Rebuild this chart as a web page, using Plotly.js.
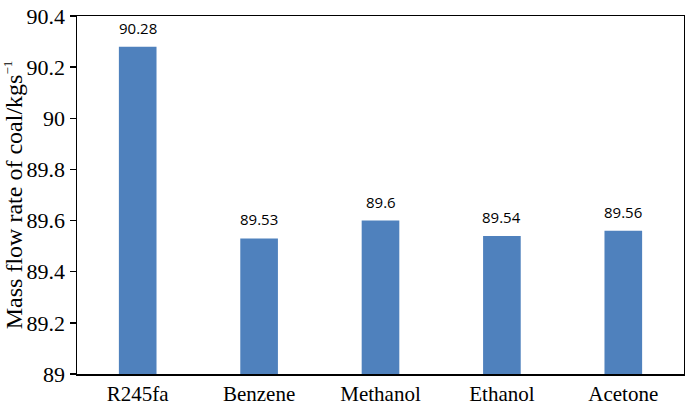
<!DOCTYPE html>
<html>
<head>
<meta charset="utf-8">
<script src="https://cdn.plot.ly/plotly-3.0.1.min.js"></script>
<style>
  html, body { margin: 0; padding: 0; background: #fff; }
  #chart { width: 685px; height: 405px; }
</style>
</head>
<body>
<div id="chart"></div>
<script>
// fluids on the x axis
var fluids = ["R245fa", "Benzene", "Methanol", "Ethanol", "Acetone"];
// mass flow rate of coal, kg/s
var coalFlow = [90.28, 89.53, 89.6, 89.54, 89.56];
var barLabels = ["90.28", "89.53", "89.6", "89.54", "89.56"];
var yTicks = [89, 89.2, 89.4, 89.6, 89.8, 90, 90.2, 90.4];
var yTickText = ["89", "89.2", "89.4", "89.6", "89.8", "90", "90.2", "90.4"];
var yBase = 89;

var trace = {
  x: fluids,
  y: coalFlow.map(v => v - yBase),
  base: yBase,
  type: "bar",
  width: 0.31,
  marker: {color: "#4f81bd"},
  hoverinfo: "none"
};

// value labels above each bar
var labels = fluids.map((f, i) => ({
  x: f,
  y: coalFlow[i],
  text: barLabels[i],
  showarrow: false,
  yanchor: "bottom",
  yshift: 7,
  font: {family: "Open Sans, Liberation Sans, sans-serif", size: 15, color: "#000"}
}));

var layout = {
  width: 685,
  height: 405,
  margin: {l: 77, r: 1, t: 16, b: 31},
  paper_bgcolor: "#fff",
  plot_bgcolor: "#fff",
  showlegend: false,
  font: {family: "Liberation Serif, Times New Roman, serif", color: "#000"},
  annotations: labels,
  xaxis: {
    showline: true, mirror: true, linecolor: "#000", linewidth: 1.5,
    ticks: "", showgrid: false,
    tickfont: {size: 21, family: "Liberation Serif, serif"}
  },
  yaxis: {
    range: [89, 90.4],
    tickvals: yTicks,
    ticktext: yTickText,
    showline: true, mirror: true, linecolor: "#000", linewidth: 1.5,
    ticks: "outside", ticklen: 6, tickwidth: 1.5, tickcolor: "#000",
    showgrid: false, zeroline: false,
    tickfont: {size: 22, family: "Liberation Serif, serif"},
    title: {
      text: "Mass flow rate of coal/kgs<sup><span style='font-size:13px'>\u22121</span></sup>",
      font: {size: 24, family: "Liberation Serif, serif"},
      standoff: 2
    }
  }
};

Plotly.newPlot("chart", [trace], layout, {displayModeBar: false, staticPlot: true});
</script>
</body>
</html>
